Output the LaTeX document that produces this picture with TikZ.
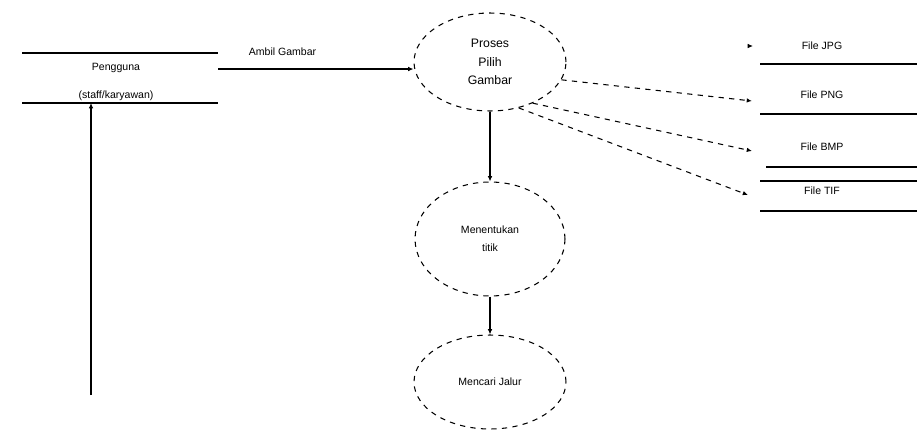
\documentclass[tikz,border=0pt]{standalone}
\usepackage{fontspec}
\setmainfont{Liberation Sans}
\usetikzlibrary{arrows.meta}
\usetikzlibrary{positioning}
\usetikzlibrary{shapes.geometric}

\begin{document}
\begin{tikzpicture}[x=0.02cm,y=-0.02cm,
                every node/.style={font=\fontsize{6}{10}\selectfont,align=center},
                proses/.style={draw,dashed,ellipse,inner sep=0pt,line width=0.6pt},
                arr/.style={-{Latex[length=3pt,width=2.6pt]},line width=0.6pt},
                darr/.style={arr,dashed}]
\useasboundingbox (0,0) rectangle (917,430);
% entitas pengguna
\draw[line width=0.7pt] (22,53) -- (218,53);
\draw[line width=0.7pt] (22,103) -- (218,103);
\node (pengguna) at (116,68) {Pengguna};
\node (staff) at (116,96) {(staff/karyawan)};
\coordinate (keluar) at (218,69);
\coordinate (staffbawah) at (91,103);
\coordinate (balik) at (91,395);
% proses
\node[proses,minimum width=3.04cm,minimum height=1.96cm,font=\fontsize{7}{10.5}\selectfont]
     (pilih) at (490,62) {Proses\\Pilih\\Gambar};
\node[proses,minimum width=3.0cm,minimum height=2.28cm] (tentukan) at (490,239) {Menentukan\\titik};
\node[proses,minimum width=3.04cm,minimum height=1.88cm] (jalur) at (490,382) {Mencari Jalur};
% penyimpanan file
\foreach \y/\nama in {46/JPG,95/PNG,147/BMP,191/TIF}
   \node (file\nama) at (822,\y) {File \nama};
\foreach \y/\x in {64/760,114/760,167/766,181/760,211/760}
   \draw[line width=0.7pt] (\x,\y) -- (917,\y);
\coordinate (kejpg) at (753,46);
\coordinate (kepng) at (752,101);
\coordinate (kebmp) at (752,151);
\coordinate (ketif) at (748,195);
% aliran
\draw[arr] (keluar) -- (keluar -| pilih.west) node[pos=0.33,above=4pt] {Ambil Gambar};
\draw[arr] (balik) -- (staffbawah);
\draw[arr] (pilih.south) -- (tentukan.north);
\draw[arr] (tentukan.south) -- (jalur.north);
\draw[arr] ([xshift=-3pt]kejpg) -- (kejpg);
\draw[darr] (pilih.-14) -- (kepng);
\draw[darr] (pilih.-44) -- (kebmp);
\draw[darr] (pilih.-58) -- (ketif);
\end{tikzpicture}
\end{document}
